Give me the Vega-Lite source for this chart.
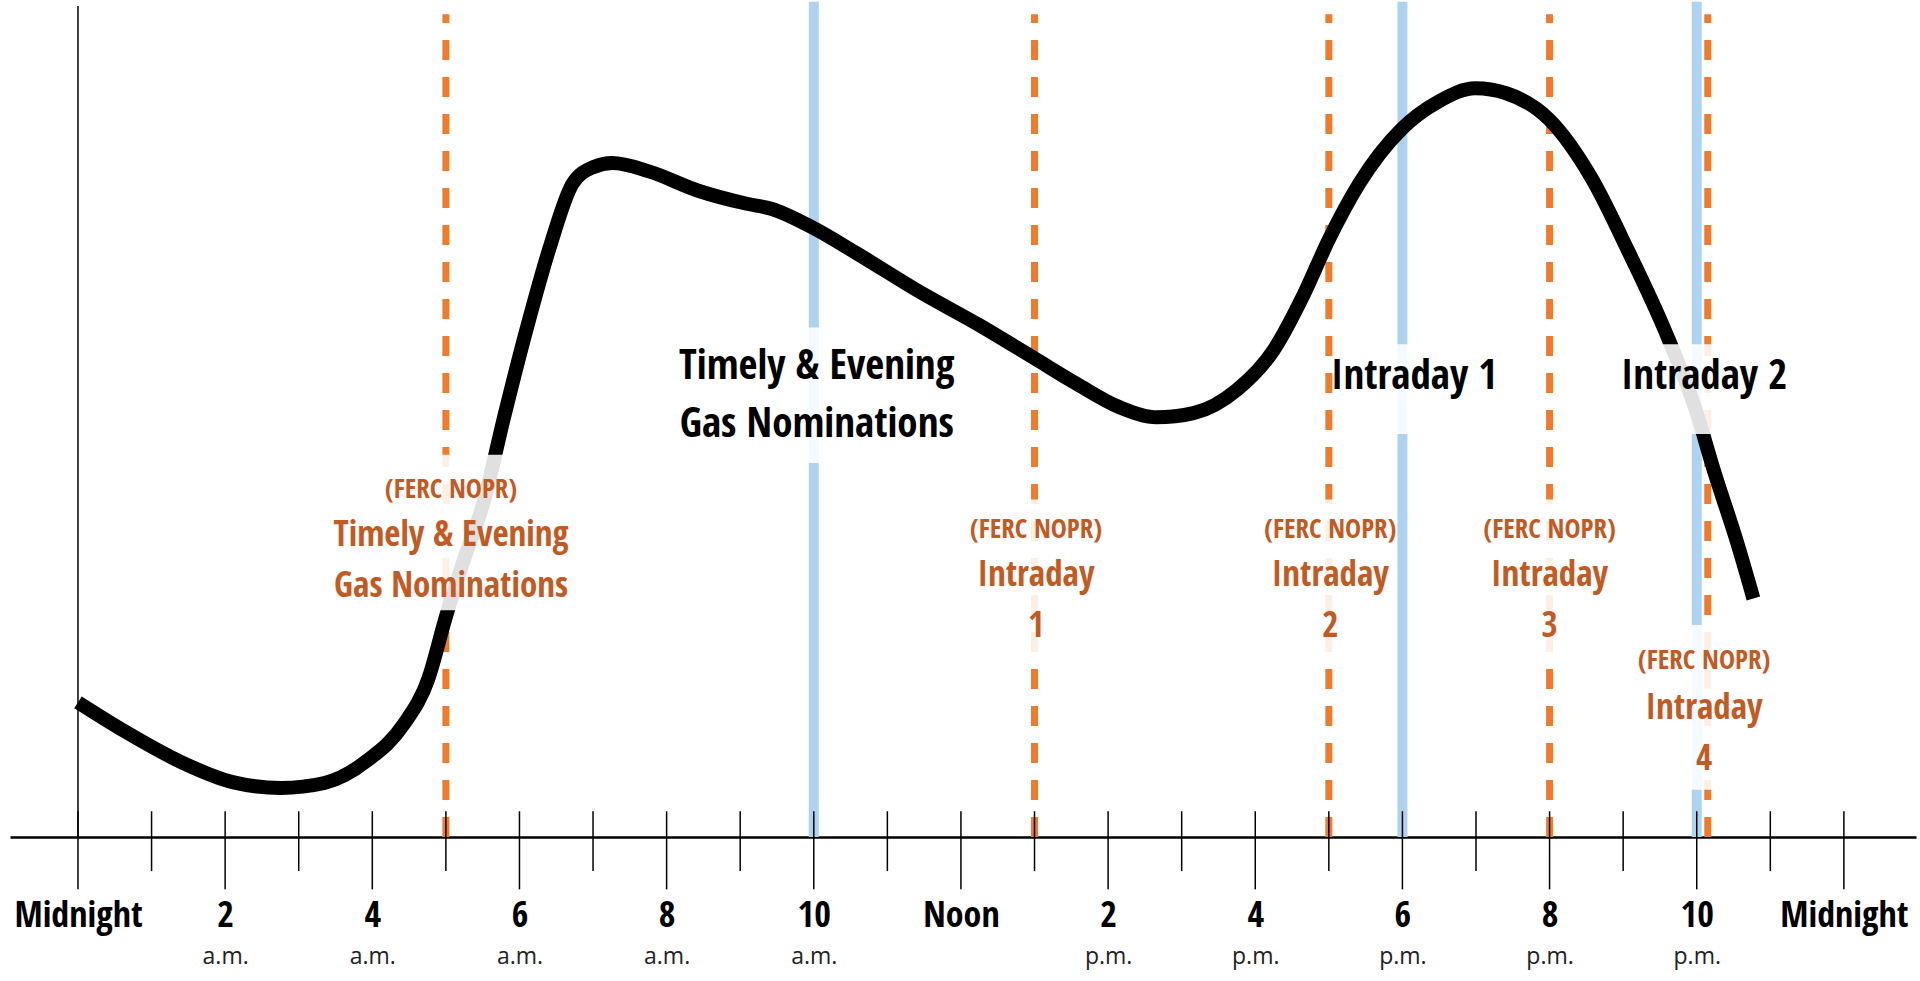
{
  "$schema": "https://vega.github.io/schema/vega-lite/v6.json",
  "width": 1906,
  "height": 831,
  "autosize": "none",
  "padding": {"left": 10, "top": 6, "right": 4, "bottom": 144},
  "config": {"view": {"stroke": null}, "font": "Liberation Sans Narrow, Noto Sans Condensed, Open Sans Condensed, Roboto Condensed, DejaVu Sans Condensed, Noto Sans CJK SC"},
  "datasets": {
    "curve": [
      {"h": 0, "v": 16.2}, {"h": 0.6, "v": 12.9}, {"h": 1.43, "v": 8.9}, {"h": 2.1, "v": 6.6},
      {"h": 2.76, "v": 5.9}, {"h": 3.35, "v": 6.5}, {"h": 3.93, "v": 9.2}, {"h": 4.43, "v": 13.6},
      {"h": 4.76, "v": 19.0}, {"h": 5.0, "v": 26.5}, {"h": 5.25, "v": 33.5}, {"h": 5.51, "v": 40.2},
      {"h": 5.79, "v": 50.5}, {"h": 6.09, "v": 60.9}, {"h": 6.42, "v": 71.2}, {"h": 6.72, "v": 78.6},
      {"h": 7.0, "v": 80.6}, {"h": 7.26, "v": 81.1}, {"h": 7.76, "v": 80.1}, {"h": 8.42, "v": 77.8},
      {"h": 9.09, "v": 76.2}, {"h": 9.42, "v": 75.6}, {"h": 9.97, "v": 73.4}, {"h": 10.59, "v": 70.2},
      {"h": 11.42, "v": 65.7}, {"h": 12.25, "v": 61.6}, {"h": 13.0, "v": 57.6}, {"h": 13.58, "v": 54.5},
      {"h": 14.16, "v": 51.7}, {"h": 14.66, "v": 50.5}, {"h": 15.16, "v": 51.0}, {"h": 15.75, "v": 53.8},
      {"h": 16.25, "v": 58.6}, {"h": 16.66, "v": 65.3}, {"h": 17.0, "v": 71.9}, {"h": 17.41, "v": 78.6},
      {"h": 17.99, "v": 85.2}, {"h": 18.49, "v": 88.5}, {"h": 18.99, "v": 90.1}, {"h": 19.41, "v": 89.5},
      {"h": 20.0, "v": 86.3}, {"h": 20.57, "v": 79.3}, {"h": 21.07, "v": 70.5}, {"h": 21.57, "v": 60.9},
      {"h": 21.99, "v": 51.3}, {"h": 22.24, "v": 43.9}, {"h": 22.54, "v": 35.7}, {"h": 22.77, "v": 28.7}
    ],
    "vlines": [
      {"hour": 10, "kind": "blue"}, {"hour": 18, "kind": "blue"}, {"hour": 22, "kind": "blue"},
      {"hour": 5, "kind": "orange"}, {"hour": 13, "kind": "orange"}, {"hour": 17, "kind": "orange"},
      {"hour": 20, "kind": "orange"}, {"hour": 22.15, "kind": "orange"}
    ],
    "ticks": [
      {"hour": 0}, {"hour": 1}, {"hour": 2}, {"hour": 3}, {"hour": 4}, {"hour": 5}, {"hour": 6},
      {"hour": 7}, {"hour": 8}, {"hour": 9}, {"hour": 10}, {"hour": 11}, {"hour": 12}, {"hour": 13},
      {"hour": 14}, {"hour": 15}, {"hour": 16}, {"hour": 17}, {"hour": 18}, {"hour": 19}, {"hour": 20},
      {"hour": 21}, {"hour": 22}, {"hour": 23}, {"hour": 24}
    ],
    "boxes": [
      {"h1": 8.37, "h2": 11.71, "v1": 45.0, "v2": 61.3},
      {"h1": 17.08, "h2": 19.24, "v1": 48.5, "v2": 59.3},
      {"h1": 21.08, "h2": 23.16, "v1": 48.5, "v2": 59.3},
      {"h1": 3.6, "h2": 6.55, "v1": 27.3, "v2": 46.0},
      {"h1": 12.05, "h2": 13.98, "v1": 21.9, "v2": 40.6},
      {"h1": 16.05, "h2": 17.88, "v1": 21.9, "v2": 40.6},
      {"h1": 19.03, "h2": 20.96, "v1": 21.9, "v2": 40.6},
      {"h1": 21.2, "h2": 23.0, "v1": 5.7, "v2": 25.5}
    ],
    "labels": [
      {"h": 10.04, "v": 56.6, "text": "Timely & Evening\nGas Nominations", "style": "black"},
      {"h": 18.16, "v": 55.4, "text": "Intraday 1", "style": "black"},
      {"h": 22.1, "v": 55.4, "text": "Intraday 2", "style": "black"},
      {"h": 5.07, "v": 41.8, "text": "(FERC NOPR)", "style": "small"},
      {"h": 5.07, "v": 36.3, "text": "Timely & Evening\nGas Nominations", "style": "large"},
      {"h": 13.02, "v": 36.9, "text": "(FERC NOPR)", "style": "small"},
      {"h": 13.02, "v": 31.5, "text": "Intraday\n1", "style": "large"},
      {"h": 17.02, "v": 36.9, "text": "(FERC NOPR)", "style": "small"},
      {"h": 17.02, "v": 31.5, "text": "Intraday\n2", "style": "large"},
      {"h": 20.0, "v": 36.9, "text": "(FERC NOPR)", "style": "small"},
      {"h": 20.0, "v": 31.5, "text": "Intraday\n3", "style": "large"},
      {"h": 22.1, "v": 21.2, "text": "(FERC NOPR)", "style": "small"},
      {"h": 22.1, "v": 15.5, "text": "Intraday\n4", "style": "large"}
    ]
  },
  "resolve": {"scale": {"x": "shared", "y": "shared"}, "axis": {"x": "independent"}},
  "layer": [
    {
      "data": {"name": "vlines"},
      "transform": [{"filter": "datum.kind === 'blue'"}],
      "mark": {"type": "rule", "color": "#AED3F0", "strokeWidth": 10},
      "encoding": {
        "x": {"field": "hour", "type": "quantitative", "scale": {"domain": [-0.924, 24.98], "nice": false, "zero": false}, "axis": null},
        "y": {"datum": 0, "type": "quantitative", "scale": {"domain": [0, 100], "nice": false, "zero": false}, "axis": null},
        "y2": {"datum": 100.5}
      }
    },
    {
      "data": {"name": "vlines"},
      "transform": [{"filter": "datum.kind === 'orange'"}],
      "mark": {"type": "rule", "color": "#F07B2B", "strokeWidth": 7, "strokeDash": [20, 17]},
      "encoding": {
        "x": {"field": "hour", "type": "quantitative", "scale": {"domain": [-0.924, 24.98], "nice": false, "zero": false}, "axis": null},
        "y": {"datum": 0, "type": "quantitative", "scale": {"domain": [0, 100], "nice": false, "zero": false}, "axis": null},
        "y2": {"datum": 99}
      }
    },
    {
      "data": {"name": "ticks"},
      "transform": [{"filter": "datum.hour === 0"}],
      "mark": {"type": "rule", "color": "black", "strokeWidth": 1.5},
      "encoding": {
        "x": {"field": "hour", "type": "quantitative", "scale": {"domain": [-0.924, 24.98], "nice": false, "zero": false}, "axis": null},
        "y": {"datum": 0, "type": "quantitative", "scale": {"domain": [0, 100], "nice": false, "zero": false}, "axis": null},
        "y2": {"datum": 100}
      }
    },
    {
      "data": {"name": "ticks"},
      "transform": [{"filter": "datum.hour % 2 === 0"}],
      "mark": {"type": "rule", "color": "black", "strokeWidth": 1.5},
      "encoding": {
        "x": {"field": "hour", "type": "quantitative", "scale": {"domain": [-0.924, 24.98], "nice": false, "zero": false},
          "axis": {"orient": "bottom", "values": [2, 4, 6, 8, 10, 14, 16, 18, 20, 22], "ticks": false, "domain": false, "grid": false, "title": null,
            "labelExpr": "datum.value < 12 ? 'a.m.' : 'p.m.'", "labelFont": "Open Sans, Liberation Sans, sans-serif", "labelFontSize": 23, "labelFontWeight": "normal", "labelColor": "#222222",
            "labelPadding": 119, "labelBaseline": "middle", "labelAlign": "center", "labelOverlap": false, "labelFlush": false}},
        "y": {"datum": 3.1, "type": "quantitative", "scale": {"domain": [0, 100], "nice": false, "zero": false}, "axis": null},
        "y2": {"datum": -6.3}
      }
    },
    {
      "data": {"name": "ticks"},
      "transform": [{"filter": "datum.hour % 2 === 1"}],
      "mark": {"type": "rule", "color": "black", "strokeWidth": 1.5},
      "encoding": {
        "x": {"field": "hour", "type": "quantitative", "scale": {"domain": [-0.924, 24.98], "nice": false, "zero": false}, "axis": null},
        "y": {"datum": 3.1, "type": "quantitative", "scale": {"domain": [0, 100], "nice": false, "zero": false}, "axis": null},
        "y2": {"datum": -4.1}
      }
    },
    {
      "data": {"name": "curve"},
      "mark": {"type": "line", "color": "black", "strokeWidth": 14, "interpolate": "monotone", "strokeCap": "butt"},
      "encoding": {
        "x": {"field": "h", "type": "quantitative", "scale": {"domain": [-0.924, 24.98], "nice": false, "zero": false},
          "axis": {"orient": "bottom", "values": [0, 2, 4, 6, 8, 10, 12, 14, 16, 18, 20, 22, 24], "ticks": false, "domain": true,
            "domainColor": "black", "domainWidth": 2.5, "grid": false, "title": null,
            "labelExpr": "datum.value == 0 || datum.value == 24 ? 'Midnight' : datum.value == 12 ? 'Noon' : '' + (datum.value % 12)",
            "labelFontSize": 36, "labelFontWeight": "bold", "labelColor": "black", "labelPadding": 78, "labelBaseline": "middle",
            "labelAlign": "center", "labelOverlap": false, "labelFlush": false}},
        "y": {"field": "v", "type": "quantitative", "scale": {"domain": [0, 100], "nice": false, "zero": false}, "axis": null}
      }
    },
    {
      "data": {"name": "boxes"},
      "mark": {"type": "rect", "fill": "white", "opacity": 0.88},
      "encoding": {
        "x": {"field": "h1", "type": "quantitative", "scale": {"domain": [-0.924, 24.98], "nice": false, "zero": false}, "axis": null},
        "x2": {"field": "h2"},
        "y": {"field": "v1", "type": "quantitative", "scale": {"domain": [0, 100], "nice": false, "zero": false}, "axis": null},
        "y2": {"field": "v2"}
      }
    },
    {
      "data": {"name": "labels"},
      "transform": [{"filter": "datum.style === 'black'"}],
      "mark": {"type": "text", "color": "black", "fontSize": 41, "fontWeight": "bold", "lineBreak": "\n", "lineHeight": 58, "align": "center", "baseline": "middle"},
      "encoding": {
        "x": {"field": "h", "type": "quantitative", "scale": {"domain": [-0.924, 24.98], "nice": false, "zero": false}, "axis": null},
        "y": {"field": "v", "type": "quantitative", "scale": {"domain": [0, 100], "nice": false, "zero": false}, "axis": null},
        "text": {"field": "text"}
      }
    },
    {
      "data": {"name": "labels"},
      "transform": [{"filter": "datum.style === 'small'"}],
      "mark": {"type": "text", "color": "#C25A24", "fontSize": 27, "fontWeight": "bold", "align": "center", "baseline": "middle"},
      "encoding": {
        "x": {"field": "h", "type": "quantitative", "scale": {"domain": [-0.924, 24.98], "nice": false, "zero": false}, "axis": null},
        "y": {"field": "v", "type": "quantitative", "scale": {"domain": [0, 100], "nice": false, "zero": false}, "axis": null},
        "text": {"field": "text"}
      }
    },
    {
      "data": {"name": "labels"},
      "transform": [{"filter": "datum.style === 'large'"}],
      "mark": {"type": "text", "color": "#C25A24", "fontSize": 35, "fontWeight": "bold", "lineBreak": "\n", "lineHeight": 51, "align": "center", "baseline": "middle"},
      "encoding": {
        "x": {"field": "h", "type": "quantitative", "scale": {"domain": [-0.924, 24.98], "nice": false, "zero": false}, "axis": null},
        "y": {"field": "v", "type": "quantitative", "scale": {"domain": [0, 100], "nice": false, "zero": false}, "axis": null},
        "text": {"field": "text"}
      }
    }
  ]
}
